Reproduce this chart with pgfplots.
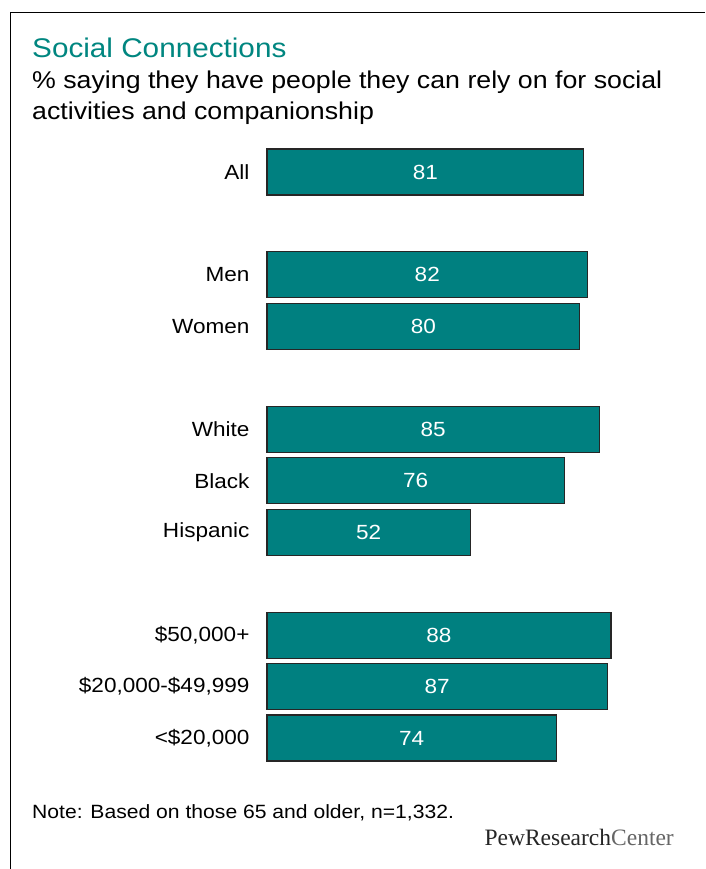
\documentclass[border=0pt]{standalone}
\usepackage{pgfplots}
\pgfplotsset{compat=1.18}
\usepackage{pgfplotstable}
\usepackage{fontspec}
\setmainfont{Liberation Sans}[FakeStretch=1.1]
\newfontfamily\logofont{Liberation Serif}
\definecolor{pewteal}{RGB}{0,128,128}
\definecolor{titleteal}{RGB}{0,134,128}
\pgfplotstableread{
pos val half
0 81 40.5
-2 82 41
-3 80 40
-5 85 42.5
-6 76 38
-7 52 26
-9 88 44
-10 87 43.5
-11 74 37
}\datatable
\begin{document}
\begin{tikzpicture}[x=1pt,y=1pt]
\useasboundingbox (0,0) rectangle (705,869);
\fill[white] (0,0) rectangle (705,869);
\draw[line width=1.4pt] (10.5,0) -- (10.5,856.5) -- (705,856.5);
\node[anchor=base west, font=\fontsize{27}{30}\selectfont, text=titleteal, inner sep=0] at (32,869-58) {Social Connections};
\node[anchor=base west, font=\fontsize{24.3}{28}\selectfont, inner sep=0] at (32,869-89) {\% saying they have people they can rely on for social};
\node[anchor=base west, font=\fontsize{24.3}{28}\selectfont, inner sep=0] at (32,869-119.5) {activities and companionship};
\begin{axis}[
  at={(267pt,722.7pt)}, anchor=north west,
  scale only axis, width=344pt, height=617.4pt,
  xmin=0, xmax=88, ymin=-11.5, ymax=0.5,
  axis line style={draw=none}, major tick length=0pt,
  xtick=\empty,
  ytick={0,-2,-3,-5,-6,-7,-9,-10,-11},
  yticklabels={All,Men,Women,White,Black,Hispanic,{\$50,000+},{\$20,000-\$49,999},{<\$20,000}},
  yticklabel style={font=\fontsize{20.5}{24}\selectfont, anchor=east, xshift=-14pt},
  /pgf/number format/assume math mode=true,
  clip=false,
]
\addplot[xbar, bar width=46pt, fill=pewteal, draw=black!85, line width=1.1pt] table[x=val, y=pos] {\datatable};
\addplot[draw=none, no marks, nodes near coords, point meta=explicit,
  every node near coord/.style={anchor=center, text=white, font=\fontsize{20.5}{24}\selectfont}]
  table[x=half, y=pos, meta=val] {\datatable};
\end{axis}
\node[anchor=base west, font=\fontsize{19.2}{22}\selectfont, inner sep=0] at (32,869-819) {Note: Based on those 65 and older, n=1,332.};
\node[anchor=base east, font=\logofont\fontsize{23.5}{26}\selectfont, inner sep=0] at (674,869-846) {\textcolor{black!85}{PewResearch}\textcolor{black!60}{Center}};
\end{tikzpicture}
\end{document}
